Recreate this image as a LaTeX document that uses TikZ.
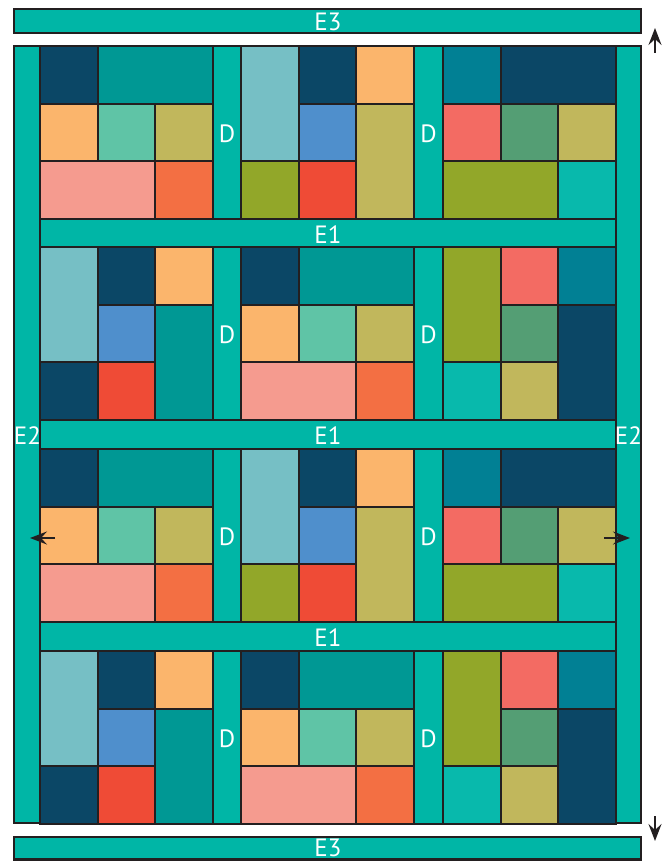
\documentclass[tikz,border=0pt]{standalone}
\usepackage{fontspec}
\setmainfont{PT Sans}
\usetikzlibrary{arrows.meta}
\definecolor{strip}{HTML}{00B6A6}
\definecolor{navy}{HTML}{0B4766}
\definecolor{tealq}{HTML}{009894}
\definecolor{lorange}{HTML}{FBB56C}
\definecolor{mint}{HTML}{5FC4A6}
\definecolor{olive}{HTML}{C1B75C}
\definecolor{salmon}{HTML}{F59B8F}
\definecolor{orangeq}{HTML}{F36F43}
\definecolor{lblue}{HTML}{76BFC5}
\definecolor{blueq}{HTML}{4F8FCC}
\definecolor{ogreen}{HTML}{92A729}
\definecolor{redq}{HTML}{EF4B36}
\definecolor{tblue}{HTML}{018094}
\definecolor{coral}{HTML}{F36B63}
\definecolor{greenq}{HTML}{549E74}
\definecolor{turq}{HTML}{08B9AC}
\definecolor{edge}{HTML}{231F20}
\tikzset{
  patch/.style={draw=edge, line width=2.2pt},
  stripbox/.style={draw=edge, line width=2.2pt, fill=strip},
  lab/.style={text=white, font=\fontsize{25}{25}\selectfont, inner sep=0pt},
  arr/.style={draw=edge, line width=1.8pt, -{Stealth[length=17pt,width=13pt,inset=6pt]}}
}
\newcommand\cell[7]{\filldraw[patch,fill=#7] ({#1+#3*173/3},{#2+#4*173/3}) rectangle ({#1+#5*173/3},{#2+#6*173/3});}
\newcommand\blockA[2]{%
  \cell{#1}{#2}{0}{0}{1}{1}{navy}
  \cell{#1}{#2}{1}{0}{3}{1}{tealq}
  \cell{#1}{#2}{0}{1}{1}{2}{lorange}
  \cell{#1}{#2}{1}{1}{2}{2}{mint}
  \cell{#1}{#2}{2}{1}{3}{2}{olive}
  \cell{#1}{#2}{0}{2}{2}{3}{salmon}
  \cell{#1}{#2}{2}{2}{3}{3}{orangeq}}
\newcommand\blockB[2]{%
  \cell{#1}{#2}{0}{0}{1}{2}{lblue}
  \cell{#1}{#2}{1}{0}{2}{1}{navy}
  \cell{#1}{#2}{2}{0}{3}{1}{lorange}
  \cell{#1}{#2}{1}{1}{2}{2}{blueq}
  \cell{#1}{#2}{2}{1}{3}{3}{olive}
  \cell{#1}{#2}{0}{2}{1}{3}{ogreen}
  \cell{#1}{#2}{1}{2}{2}{3}{redq}}
\newcommand\blockBB[2]{%
  \cell{#1}{#2}{0}{0}{1}{2}{lblue}
  \cell{#1}{#2}{1}{0}{2}{1}{navy}
  \cell{#1}{#2}{2}{0}{3}{1}{lorange}
  \cell{#1}{#2}{1}{1}{2}{2}{blueq}
  \cell{#1}{#2}{2}{1}{3}{3}{tealq}
  \cell{#1}{#2}{0}{2}{1}{3}{navy}
  \cell{#1}{#2}{1}{2}{2}{3}{redq}}
\newcommand\blockC[2]{%
  \cell{#1}{#2}{0}{0}{1}{1}{tblue}
  \cell{#1}{#2}{1}{0}{3}{1}{navy}
  \cell{#1}{#2}{0}{1}{1}{2}{coral}
  \cell{#1}{#2}{1}{1}{2}{2}{greenq}
  \cell{#1}{#2}{2}{1}{3}{2}{olive}
  \cell{#1}{#2}{0}{2}{2}{3}{ogreen}
  \cell{#1}{#2}{2}{2}{3}{3}{turq}}
\newcommand\blockCC[2]{%
  \cell{#1}{#2}{0}{0}{1}{2}{ogreen}
  \cell{#1}{#2}{1}{0}{2}{1}{coral}
  \cell{#1}{#2}{2}{0}{3}{1}{tblue}
  \cell{#1}{#2}{1}{1}{2}{2}{greenq}
  \cell{#1}{#2}{2}{1}{3}{3}{navy}
  \cell{#1}{#2}{0}{2}{1}{3}{turq}
  \cell{#1}{#2}{1}{2}{2}{3}{olive}}
\begin{document}
\begin{tikzpicture}[x=1pt,y=-1pt]
\useasboundingbox (0,0) rectangle (668,861);
% E3 bars
\draw[stripbox] (14,9) rectangle (641,33);
\node[lab] (e3t) at (328,22) {E3};
\draw[stripbox] (14,837) rectangle (641,859.5);
\node[lab] (e3b) at (328,848) {E3};
% E2 side strips
\draw[stripbox] (14,46) rectangle (40,823);
\draw[stripbox] (616,46) rectangle (641,823);
% E1 strips
\draw[stripbox] (40,219) rectangle (616,247);
\draw[stripbox] (40,420) rectangle (616,449);
\draw[stripbox] (40,622) rectangle (616,651);
% D strips
\foreach \yy in {46,247,449,651}{
  \draw[stripbox] (213,\yy) rectangle (241,\yy+173);
  \draw[stripbox] (414,\yy) rectangle (443,\yy+173);
}
% blocks
\blockA{40}{46}  \blockB{241}{46}  \blockC{443}{46}
\blockBB{40}{247} \blockA{241}{247} \blockCC{443}{247}
\blockA{40}{449}  \blockB{241}{449}  \blockC{443}{449}
\blockBB{40}{651} \blockA{241}{651} \blockCC{443}{651}
% labels
\node[lab] (e1a) at (328,235) {E1};
\node[lab] (e1b) at (328,436) {E1};
\node[lab] (e1c) at (328,638) {E1};
\node[lab] (e2l) at (27.5,436) {E2};
\node[lab] (e2r) at (628.5,436) {E2};
\node[lab] (d1) at (227,134) {D};
\node[lab] (d2) at (428.5,134) {D};
\node[lab] (d3) at (227,335) {D};
\node[lab] (d4) at (428.5,335) {D};
\node[lab] (d5) at (227,537) {D};
\node[lab] (d6) at (428.5,537) {D};
\node[lab] (d7) at (227,739) {D};
\node[lab] (d8) at (428.5,739) {D};
% arrows
\coordinate (ut) at (655,53);
\coordinate (uh) at (655,28);
\coordinate (dt) at (655,816);
\coordinate (dh) at (655,841);
\coordinate (lt) at (55,538);
\coordinate (lh) at (30,538);
\coordinate (rt) at (604,538);
\coordinate (rh) at (630,538);
\draw[arr] (ut) -- (uh);
\draw[arr] (dt) -- (dh);
\draw[arr] (lt) -- (lh);
\draw[arr] (rt) -- (rh);
\end{tikzpicture}
\end{document}
